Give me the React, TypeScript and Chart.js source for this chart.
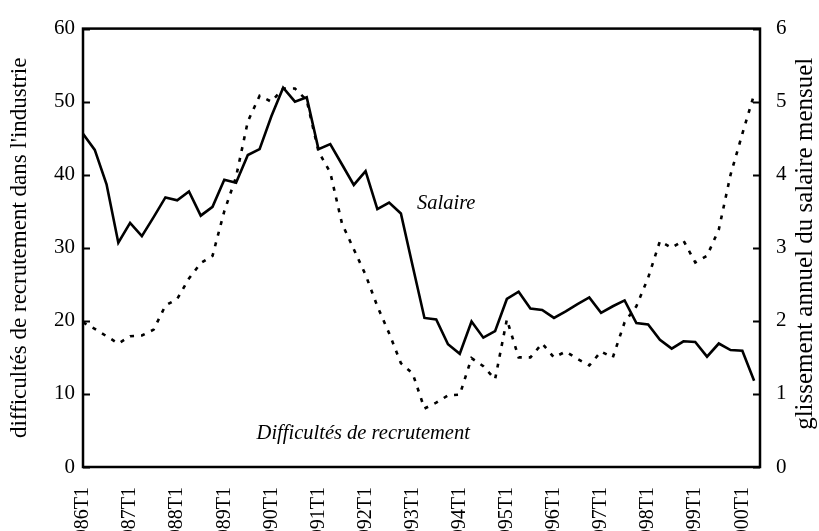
import React, { useEffect, useRef } from "react";
import { Chart, registerables } from "chart.js";
Chart.register(...registerables);

const quarters = [
  "1986T1","1986T2","1986T3","1986T4","1987T1","1987T2","1987T3","1987T4",
  "1988T1","1988T2","1988T3","1988T4","1989T1","1989T2","1989T3","1989T4",
  "1990T1","1990T2","1990T3","1990T4","1991T1","1991T2","1991T3","1991T4",
  "1992T1","1992T2","1992T3","1992T4","1993T1","1993T2","1993T3","1993T4",
  "1994T1","1994T2","1994T3","1994T4","1995T1","1995T2","1995T3","1995T4",
  "1996T1","1996T2","1996T3","1996T4","1997T1","1997T2","1997T3","1997T4",
  "1998T1","1998T2","1998T3","1998T4","1999T1","1999T2","1999T3","1999T4",
  "2000T1","2000T2",
];

// left axis (0-60)
const difficultes = [
  19.8, 18.9, 17.9, 16.9, 17.9, 18.0, 18.8, 22.1, 23.0, 25.8,
  27.9, 28.9, 35.0, 39.7, 47.3, 50.8, 50.0, 51.8, 51.8, 50.2,
  43.2, 40.3, 33.3, 29.8, 26.3, 22.0, 18.3, 14.2, 12.8, 8.0,
  8.8, 9.8, 9.9, 14.9, 13.8, 12.0, 20.2, 15.0, 15.0, 16.9,
  15.0, 15.8, 14.8, 13.9, 15.8, 15.0, 19.8, 22.0, 25.9, 30.9,
  30.0, 31.0, 28.0, 28.9, 32.5, 40.0, 45.6, 51.0,
];

// right axis (0-6)
const salaire = [
  4.56, 4.34, 3.87, 3.07, 3.34, 3.16, 3.42, 3.69, 3.65, 3.77,
  3.44, 3.56, 3.93, 3.89, 4.27, 4.35, 4.80, 5.19, 5.00, 5.06,
  4.35, 4.42, 4.14, 3.86, 4.05, 3.53, 3.62, 3.47, 2.75, 2.04,
  2.02, 1.68, 1.55, 1.99, 1.77, 1.86, 2.30, 2.40, 2.17, 2.15,
  2.04, 2.13, 2.23, 2.32, 2.11, 2.20, 2.28, 1.97, 1.95, 1.74,
  1.62, 1.72, 1.71, 1.51, 1.69, 1.60, 1.59, 1.18,
];

const leftTitle = "difficultés de recrutement dans l'industrie";
const rightTitle = "glissement annuel du salaire mensuel";
const salaireNote = { text: "Salaire", x: 30.85, y: 3.6 };
const diffNote = { text: "Difficultés de recrutement", x: 23.8, y: 0.46 };

const FONT = '"Liberation Serif", "Times New Roman", serif';

const decor = {
  id: "decor",
  afterDatasetsDraw(chart: any) {
    const { ctx, chartArea: a, scales } = chart;
    ctx.save();
    ctx.strokeStyle = "#000";
    ctx.fillStyle = "#000";
    ctx.lineWidth = 2.5;
    ctx.strokeRect(a.left, a.top, a.right - a.left, a.bottom - a.top);
    ctx.lineWidth = 2;
    ctx.beginPath();
    scales.y.ticks.forEach((t: any) => {
      const py = Math.round(scales.y.getPixelForValue(t.value)) + 0.5;
      ctx.moveTo(a.left, py);
      ctx.lineTo(a.left + 7, py);
    });
    scales.y1.ticks.forEach((t: any) => {
      const py = Math.round(scales.y1.getPixelForValue(t.value)) + 0.5;
      ctx.moveTo(a.right - 7, py);
      ctx.lineTo(a.right, py);
    });
    ctx.stroke();

    ctx.font = `italic 20.5px ${FONT}`;
    ctx.textAlign = "center";
    ctx.textBaseline = "middle";
    ctx.fillText(salaireNote.text, scales.x.getPixelForValue(salaireNote.x), scales.y1.getPixelForValue(salaireNote.y));
    ctx.fillText(diffNote.text, scales.x.getPixelForValue(diffNote.x), scales.y1.getPixelForValue(diffNote.y));

    const cy = (a.top + a.bottom) / 2;
    ctx.save();
    ctx.font = `23px ${FONT}`;
    ctx.translate(20, cy);
    ctx.rotate(-Math.PI / 2);
    ctx.fillText(leftTitle, 0, 0);
    ctx.restore();
    ctx.save();
    ctx.font = `25px ${FONT}`;
    ctx.translate(805, cy - 4);
    ctx.rotate(-Math.PI / 2);
    ctx.fillText(rightTitle, 0, 0);
    ctx.restore();
    ctx.restore();
  },
};

export default function App() {
  const ref = useRef<HTMLCanvasElement | null>(null);
  useEffect(() => {
    if (!ref.current) return;
    Chart.defaults.font.family = FONT;
    Chart.defaults.color = "#000";
    const chart = new Chart(ref.current, {
      type: "line",
      data: {
        datasets: [
          {
            label: "Salaire",
            data: salaire.map((v, i) => ({ x: i, y: v })),
            yAxisID: "y1",
            borderColor: "#000",
            borderWidth: 2.6,
            pointRadius: 0,
            tension: 0,
          },
          {
            label: "Difficultés de recrutement",
            data: difficultes.map((v, i) => ({ x: i, y: v })),
            yAxisID: "y",
            borderColor: "#000",
            borderWidth: 2.6,
            borderDash: [4, 7],
            pointRadius: 0,
            tension: 0,
          },
        ],
      },
      options: {
        animation: false,
        responsive: false,
        layout: { padding: { top: 22, left: 0, right: 0, bottom: 0 } },
        plugins: { legend: { display: false }, tooltip: { enabled: false } },
        scales: {
          x: {
            type: "linear",
            min: 0,
            max: 57.5,
            grid: { display: false, drawTicks: false },
            border: { display: false },
            ticks: {
              stepSize: 4,
              includeBounds: false,
              autoSkip: false,
              maxRotation: 90,
              minRotation: 90,
              padding: 20,
              font: { size: 20, family: FONT },
              color: "#000",
              callback: (v: any) => quarters[v] ?? "",
            },
            afterFit: (s: any) => { s.height = 64; },
          },
          y: {
            position: "left",
            min: 0,
            max: 60,
            grid: { display: false, drawTicks: false },
            border: { display: false },
            ticks: { stepSize: 10, padding: 8, font: { size: 21, family: FONT }, color: "#000" },
            afterFit: (s: any) => { s.width = 83; },
          },
          y1: {
            position: "right",
            min: 0,
            max: 6,
            grid: { display: false, drawTicks: false },
            border: { display: false },
            ticks: { stepSize: 1, padding: 16, font: { size: 21, family: FONT }, color: "#000" },
            afterFit: (s: any) => { s.width = 59; },
          },
        },
      },
      plugins: [decor],
    });
    return () => chart.destroy();
  }, []);
  return (
    <div style={{ position: "absolute", left: 0, top: 0, width: 819, height: 531 }}>
      <canvas ref={ref} width={819} height={531} style={{ display: "block" }} />
    </div>
  );
}
